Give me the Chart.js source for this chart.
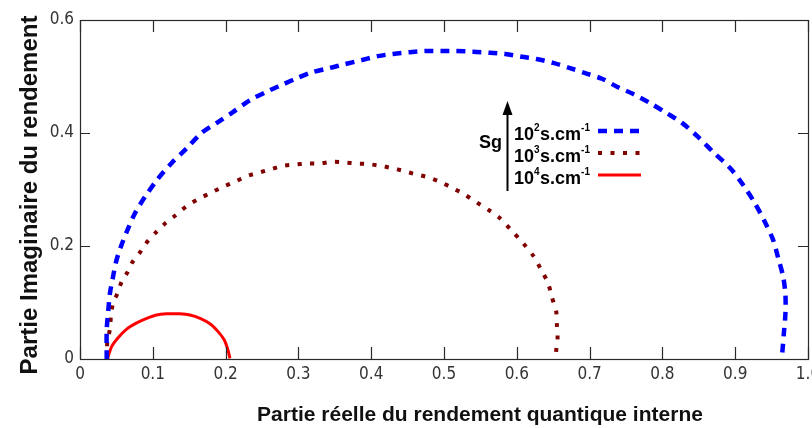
<!DOCTYPE html>
<html>
<head>
<meta charset="utf-8">
<script src="https://cdn.jsdelivr.net/npm/chart.js@4"></script>
<style>
  html, body { margin: 0; padding: 0; background: #fff; overflow: hidden; }
  canvas { display: block; }
</style>
</head>
<body>
<canvas id="nyquist" width="830" height="428"></canvas>
<script>
// Tick values
const xTicks = [0, 0.1, 0.2, 0.3, 0.4, 0.5, 0.6, 0.7, 0.8, 0.9, 1];
const yTicks = [0, 0.2, 0.4, 0.6];

// Axis titles
const xTitle = 'Partie réelle du rendement quantique interne';
const yTitle = 'Partie Imaginaire du rendement';

// Sg = 1e2 s.cm-1 : real / imaginary parts of the internal quantum yield
const sg2Re = [0.0367, 0.0367, 0.0389, 0.0412, 0.0453, 0.0495, 0.0559, 0.0641, 0.0755, 0.0893, 0.1058, 0.126, 0.1466, 0.167, 0.188, 0.210, 0.2335, 0.261, 0.277, 0.298, 0.320, 0.343, 0.364, 0.387, 0.409, 0.430, 0.453, 0.474, 0.497, 0.517, 0.540, 0.563, 0.584, 0.607, 0.627, 0.650, 0.673, 0.694, 0.717, 0.739, 0.760, 0.783, 0.806, 0.827, 0.849, 0.870, 0.893, 0.911, 0.927, 0.941, 0.952, 0.959, 0.966, 0.969, 0.969, 0.967, 0.965, 0.964];
const sg2Im = [0, 0.051, 0.087, 0.117, 0.145, 0.172, 0.198, 0.225, 0.258, 0.287, 0.317, 0.347, 0.373, 0.400, 0.418, 0.437, 0.458, 0.476, 0.485, 0.497, 0.508, 0.515, 0.522, 0.529, 0.536, 0.540, 0.543, 0.545, 0.545, 0.545, 0.544, 0.542, 0.540, 0.535, 0.531, 0.524, 0.515, 0.506, 0.496, 0.481, 0.469, 0.453, 0.435, 0.418, 0.393, 0.366, 0.338, 0.308, 0.276, 0.242, 0.211, 0.179, 0.145, 0.113, 0.081, 0.048, 0.016, 0.002];

// Sg = 1e3 s.cm-1
const sg3Re = [0.0375, 0.0375, 0.0412, 0.0426, 0.0457, 0.0518, 0.0573, 0.065, 0.0718, 0.0815, 0.0902, 0.105, 0.118, 0.131, 0.147, 0.164, 0.181, 0.197, 0.213, 0.230, 0.246, 0.263, 0.279, 0.295, 0.312, 0.329, 0.346, 0.363, 0.379, 0.395, 0.412, 0.428, 0.444, 0.461, 0.477, 0.494, 0.511, 0.527, 0.544, 0.560, 0.577, 0.593, 0.608, 0.623, 0.633, 0.643, 0.648, 0.654, 0.655, 0.656, 0.654, 0.654];
const sg3Im = [0, 0.031, 0.053, 0.078, 0.100, 0.117, 0.137, 0.153, 0.171, 0.187, 0.204, 0.225, 0.241, 0.254, 0.271, 0.284, 0.295, 0.305, 0.314, 0.324, 0.330, 0.336, 0.342, 0.344, 0.346, 0.346, 0.349, 0.348, 0.346, 0.345, 0.342, 0.338, 0.333, 0.327, 0.322, 0.314, 0.303, 0.292, 0.278, 0.265, 0.249, 0.227, 0.206, 0.182, 0.159, 0.134, 0.110, 0.085, 0.062, 0.038, 0.013, 0];

// Sg = 1e4 s.cm-1
const sg4Re = [0.0375, 0.0435, 0.0526, 0.0641, 0.0779, 0.0916, 0.105, 0.119, 0.137, 0.151, 0.165, 0.179, 0.190, 0.198, 0.203, 0.206];
const sg4Im = [0, 0.022, 0.038, 0.053, 0.064, 0.072, 0.078, 0.080, 0.080, 0.078, 0.072, 0.062, 0.048, 0.034, 0.017, 0.001];

// Legend entries: exponent of Sg
const sgExponents = ['2', '3', '4'];

const toPoints = (re, im) => re.map((v, i) => ({ x: v, y: im[i] }));

const tickFamily = "'Liberation Sans Narrow', 'DejaVu Sans Condensed', 'Liberation Sans', sans-serif";

// Box around the plot with inward ticks on all four sides
const boxTicks = {
  id: 'boxTicks',
  afterDraw(chart) {
    const { ctx, chartArea: a, scales } = chart;
    ctx.save();
    ctx.strokeStyle = '#2a2a2a';
    ctx.lineWidth = 1.2;
    ctx.beginPath();
    scales.x.ticks.forEach(t => {
      const px = Math.round(scales.x.getPixelForValue(t.value)) + 0.5;
      ctx.moveTo(px, a.bottom); ctx.lineTo(px, a.bottom - 12);
      ctx.moveTo(px, a.top); ctx.lineTo(px, a.top + 12);
    });
    scales.y.ticks.forEach(t => {
      const py = Math.round(scales.y.getPixelForValue(t.value)) + 0.5;
      ctx.moveTo(a.left, py); ctx.lineTo(a.left + 10, py);
      ctx.moveTo(a.right, py); ctx.lineTo(a.right - 10, py);
    });
    ctx.stroke();
    ctx.strokeRect(Math.round(a.left) + 0.5, Math.round(a.top) + 0.5,
                   Math.round(a.right - a.left), Math.round(a.bottom - a.top));
    ctx.restore();
  }
};

// Axis titles
const axisTitles = {
  id: 'axisTitles',
  afterDraw(chart) {
    const { ctx } = chart;
    ctx.save();
    ctx.fillStyle = '#111';
    ctx.textAlign = 'center';
    ctx.textBaseline = 'alphabetic';
    ctx.font = "bold 21px 'Liberation Sans', Arial, sans-serif";
    ctx.fillText(xTitle, 480, 421);
    ctx.translate(37, 195);
    ctx.rotate(-Math.PI / 2);
    ctx.font = "bold 24px 'Liberation Sans', Arial, sans-serif";
    ctx.fillText(yTitle, 0, 0);
    ctx.restore();
  }
};

// Sg legend: upward arrow, labels with superscripts, line samples
const sgLegend = {
  id: 'sgLegend',
  afterDraw(chart) {
    const { ctx } = chart;
    ctx.save();
    ctx.strokeStyle = '#000';
    ctx.fillStyle = '#000';
    ctx.lineWidth = 2;
    ctx.beginPath();
    ctx.moveTo(507.5, 191); ctx.lineTo(507.5, 112);
    ctx.stroke();
    ctx.beginPath();
    ctx.moveTo(507.5, 101); ctx.lineTo(502.5, 115); ctx.lineTo(512.5, 115);
    ctx.closePath(); ctx.fill();

    ctx.textBaseline = 'alphabetic';
    ctx.textAlign = 'left';
    ctx.font = "bold 18px 'Liberation Sans', Arial, sans-serif";
    ctx.fillText('Sg', 479, 148);

    const baseFont = "bold 18px 'Liberation Sans', Arial, sans-serif";
    const supFont = "bold 10px 'Liberation Sans', Arial, sans-serif";
    const baselines = [140, 162, 184];
    chart.data.datasets.forEach((ds, i) => {
      const yb = baselines[i];
      let x = 514;
      ctx.fillStyle = '#000';
      ctx.font = baseFont; ctx.fillText('10', x, yb); x += ctx.measureText('10').width;
      ctx.font = supFont; ctx.fillText(sgExponents[i], x, yb - 9); x += ctx.measureText(sgExponents[i]).width + 0.5;
      ctx.font = baseFont; ctx.fillText('s.cm', x, yb); x += ctx.measureText('s.cm').width;
      ctx.font = supFont; ctx.fillText('-1', x, yb - 9);
      const ly = yb - 9;
      ctx.strokeStyle = ds.borderColor;
      ctx.lineWidth = ds.borderWidth;
      ctx.setLineDash(ds.borderDash || []);
      ctx.lineCap = 'butt';
      ctx.beginPath();
      ctx.moveTo(598, ly); ctx.lineTo(641, ly);
      ctx.stroke();
      ctx.setLineDash([]);
    });
    ctx.restore();
  }
};

new Chart(document.getElementById('nyquist'), {
  type: 'line',
  data: {
    datasets: [
      { label: '10² s.cm⁻¹', data: toPoints(sg2Re, sg2Im), borderColor: '#0000ff',
        borderWidth: 4.5, borderDash: [9, 7], pointRadius: 0, tension: 0.3, fill: false },
      { label: '10³ s.cm⁻¹', data: toPoints(sg3Re, sg3Im), borderColor: '#800000',
        borderWidth: 4, borderDash: [4, 8.5], pointRadius: 0, tension: 0.3, fill: false },
      { label: '10⁴ s.cm⁻¹', data: toPoints(sg4Re, sg4Im), borderColor: '#ff0000',
        borderWidth: 3, pointRadius: 0, tension: 0.3, fill: false }
    ]
  },
  options: {
    responsive: false,
    animation: false,
    layout: { padding: { left: 0, right: 22, top: 20, bottom: 0 } },
    plugins: { legend: { display: false }, tooltip: { enabled: false } },
    scales: {
      x: {
        type: 'linear', min: 0, max: 1,
        afterBuildTicks: s => { s.ticks = xTicks.map(v => ({ value: v })); },
        afterFit: s => { s.height = 69; },
        grid: { display: false, drawTicks: false },
        border: { display: false },
        ticks: { color: '#333', padding: 5, maxRotation: 0, autoSkip: false,
                 font: { family: tickFamily, size: 17 } },
        title: { display: false }
      },
      y: {
        type: 'linear', min: 0, max: 0.6,
        afterBuildTicks: s => { s.ticks = yTicks.map(v => ({ value: v })); },
        afterFit: s => { s.width = 80; },
        grid: { display: false, drawTicks: false },
        border: { display: false },
        ticks: { color: '#333', padding: 6,
                 font: { family: tickFamily, size: 17 } },
        title: { display: false }
      }
    }
  },
  plugins: [boxTicks, axisTitles, sgLegend]
});
</script>
</body>
</html>
